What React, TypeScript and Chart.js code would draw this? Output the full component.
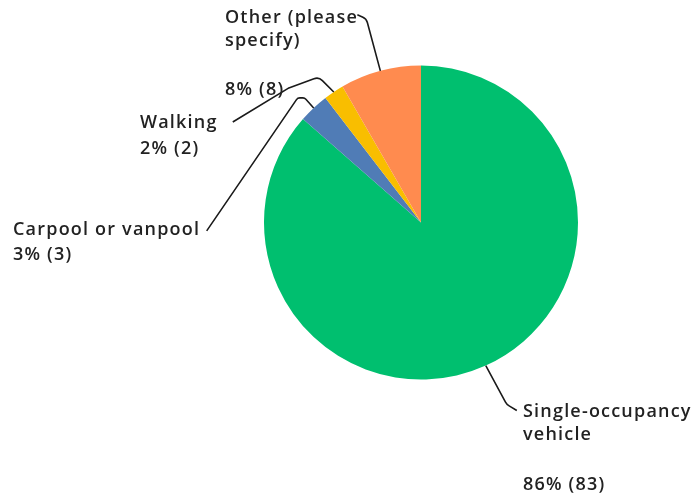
import React, { useEffect, useRef } from "react";
import { Chart, registerables } from "chart.js";

Chart.register(...registerables);

const categories = ["Single-occupancy vehicle", "Carpool or vanpool", "Walking", "Other (please specify)"];
const counts = [83, 3, 2, 8];
const percents = ["86%", "3%", "2%", "8%"];
const colors = ["#00BF6F", "#507CB6", "#F9BE00", "#FF8B4F"];

// label layout: text lines, x, first baseline, line gaps; leader path offsets relative to slice anchor
const labelLayout = [
  { lines: ["Single-occupancy", "vehicle", "", "86% (83)"], x: 523, y: 417, gaps: [23, 25, 25], path: [[21, 39], [31, 45]], r: 10 },
  { lines: ["Carpool or vanpool", "3% (3)"], x: 13, y: 235, gaps: [25], path: [[-9, -10], [-16, -10], [-107, 123]], r: 4 },
  { lines: ["Walking", "2% (2)"], x: 140, y: 128, gaps: [26], path: [[-15, -15], [-45, -4], [-101, 30]], r: 8 },
  { lines: ["Other (please", "specify)", "", "8% (8)"], x: 225, y: 23, gaps: [23, 25, 24], path: [[-14, -52], [-23, -56]], r: 8 },
];

const FONT = "600 18px 'Open Sans', sans-serif";

const labelPlugin = {
  id: "leaderLabels",
  afterDraw(chart: any) {
    const ctx = chart.ctx;
    const meta = chart.getDatasetMeta(0);
    ctx.save();
    meta.data.forEach((arc: any, i: number) => {
      const p = arc.getProps(["x", "y", "startAngle", "endAngle", "outerRadius"], true);
      const mid = (p.startAngle + p.endAngle) / 2;
      const ax = p.x + Math.cos(mid) * p.outerRadius;
      const ay = p.y + Math.sin(mid) * p.outerRadius;
      const L = labelLayout[i];
      const pts = [[ax, ay], ...L.path.map(([dx, dy]) => [ax + dx, ay + dy])];
      ctx.beginPath();
      ctx.strokeStyle = "#1a1a1a";
      ctx.lineWidth = 1.6;
      ctx.moveTo(pts[0][0], pts[0][1]);
      for (let k = 1; k < pts.length - 1; k++) {
        ctx.arcTo(pts[k][0], pts[k][1], pts[k + 1][0], pts[k + 1][1], L.r);
      }
      ctx.lineTo(pts[pts.length - 1][0], pts[pts.length - 1][1]);
      ctx.stroke();

      ctx.fillStyle = "#222222";
      ctx.font = FONT;
      (ctx as any).letterSpacing = "1.2px";
      ctx.textAlign = "left";
      ctx.textBaseline = "alphabetic";
      let y = L.y;
      L.lines.forEach((t, k) => {
        if (t) ctx.fillText(t, L.x, y);
        if (k < L.gaps.length) y += L.gaps[k];
      });
    });
    ctx.restore();
  },
};

export default function App() {
  const ref = useRef<HTMLCanvasElement>(null);
  useEffect(() => {
    if (!ref.current) return;
    const chart = new Chart(ref.current, {
      type: "pie",
      data: {
        labels: categories,
        datasets: [
          {
            data: counts,
            backgroundColor: colors,
            borderWidth: 0,
          },
        ],
      },
      options: {
        responsive: false,
        animation: false,
        layout: { padding: { top: 65, bottom: 117, left: 264, right: 116 } },
        plugins: { legend: { display: false }, tooltip: { enabled: false } },
      },
      plugins: [labelPlugin],
    });
    return () => chart.destroy();
  }, []);
  return (
    <div style={{ position: "fixed", left: 0, top: 0, width: 694, height: 497, background: "#fff" }}>
      <canvas ref={ref} width={694} height={497} />
    </div>
  );
}
